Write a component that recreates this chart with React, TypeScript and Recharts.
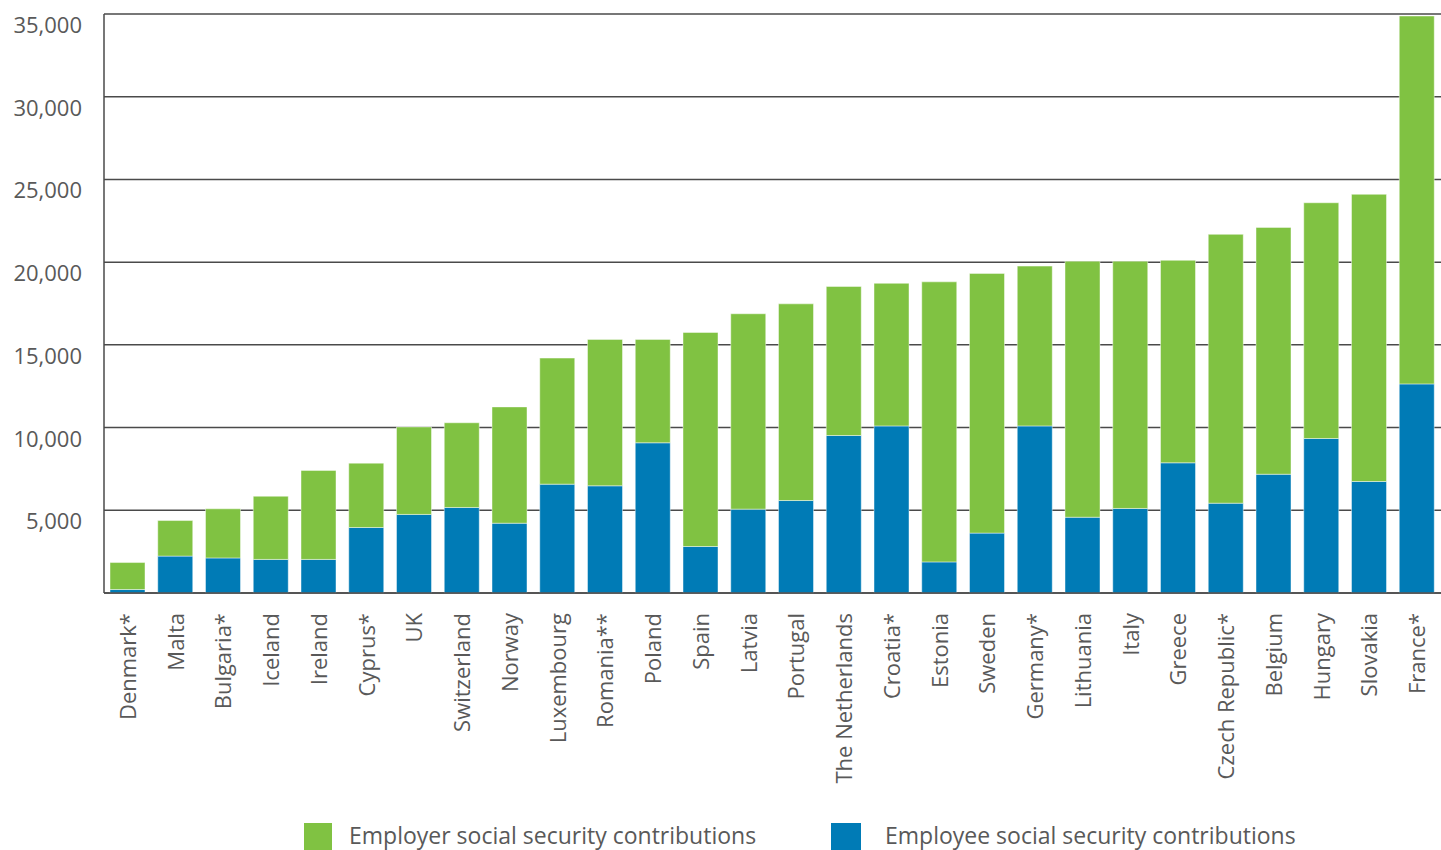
import React from 'react';
import { BarChart, Bar, XAxis, YAxis, CartesianGrid, Legend } from 'recharts';

const countries = [
  'Denmark*', 'Malta', 'Bulgaria*', 'Iceland', 'Ireland', 'Cyprus*', 'UK', 'Switzerland', 'Norway',
  'Luxembourg', 'Romania**', 'Poland', 'Spain', 'Latvia', 'Portugal', 'The Netherlands', 'Croatia*',
  'Estonia', 'Sweden', 'Germany*', 'Lithuania', 'Italy', 'Greece', 'Czech Republic*', 'Belgium',
  'Hungary', 'Slovakia', 'France*',
];

const employeeContrib = [
  210, 2230, 2120, 2030, 2030, 3960, 4750, 5170, 4220,
  6580, 6480, 9080, 2810, 5070, 5590, 9520, 10100,
  1880, 3620, 10100, 4580, 5110, 7870, 5430, 7180,
  9340, 6740, 12640,
];

const employerContrib = [
  1630, 2150, 2970, 3820, 5380, 3890, 5290, 5120, 7030,
  7620, 8850, 6250, 12940, 11810, 11890, 9010, 8620,
  16930, 15700, 9660, 15480, 14950, 12240, 16250, 14920,
  14250, 17360, 22240,
];

const yTicks = [5000, 10000, 15000, 20000, 25000, 30000, 35000];

const GREEN = '#80c242';
const BLUE = '#007bb6';
const TEXT = '#595959';
const LINE = '#4a4a4a';
const FONT = '"Open Sans", "Noto Sans", sans-serif';

const data = countries.map((country, i) => ({
  country,
  employee: employeeContrib[i],
  employer: employerContrib[i],
}));

const YTick = (props: any) => {
  const { y, payload } = props;
  return (
    <text x={82} y={y + 19} textAnchor="end" fill={TEXT} fontSize={22} fontFamily={FONT}>
      {Number(payload.value).toLocaleString('en-US')}
    </text>
  );
};

const XTick = (props: any) => {
  const { x, y, payload } = props;
  return (
    <g transform={`translate(${x},${y})`}>
      <text
        transform="rotate(-90)"
        x={-12}
        y={0}
        dy="0.36em"
        textAnchor="end"
        fill={TEXT}
        fontSize={22}
        fontFamily={FONT}
      >
        {payload.value}
      </text>
    </g>
  );
};

const LegendContent = () => (
  <div style={{ position: 'relative', width: 1441, height: 30, fontFamily: FONT, fontSize: 23, color: TEXT }}>
    <div style={{ position: 'absolute', left: 304, top: 3, width: 28, height: 27, background: GREEN }} />
    <div style={{ position: 'absolute', left: 349, top: 0, lineHeight: '30px', whiteSpace: 'nowrap' }}>
      Employer social security contributions
    </div>
    <div style={{ position: 'absolute', left: 831, top: 3, width: 30, height: 27, background: BLUE }} />
    <div style={{ position: 'absolute', left: 885, top: 0, lineHeight: '30px', whiteSpace: 'nowrap' }}>
      Employee social security contributions
    </div>
  </div>
);

export default function App() {
  return (
    <div style={{ position: 'absolute', left: 0, top: 0, width: 1441, height: 850, background: '#fff' }}>
      <BarChart
        width={1441}
        height={850}
        data={data}
        margin={{ top: 14, right: 0, left: 0, bottom: 0 }}
        barSize={35}
      >
        <CartesianGrid vertical={false} stroke={LINE} strokeWidth={1.5} />
        <XAxis
          dataKey="country"
          interval={0}
          tickLine={false}
          axisLine={{ stroke: LINE, strokeWidth: 1.5 }}
          height={227}
          tick={<XTick />}
        />
        <YAxis
          width={104}
          domain={[0, 35000]}
          ticks={yTicks}
          tickLine={false}
          axisLine={{ stroke: LINE, strokeWidth: 1.5 }}
          tick={<YTick />}
        />
        <Legend
          verticalAlign="bottom"
          content={<LegendContent />}
          wrapperStyle={{ left: 0, width: 1441, height: 30 }}
        />
        <Bar dataKey="employee" stackId="a" fill={BLUE} stroke="rgba(255,255,255,0.45)" strokeWidth={1} isAnimationActive={false} name="Employee social security contributions" />
        <Bar dataKey="employer" stackId="a" fill={GREEN} stroke="rgba(255,255,255,0.45)" strokeWidth={1} isAnimationActive={false} name="Employer social security contributions" />
      </BarChart>
    </div>
  );
}
